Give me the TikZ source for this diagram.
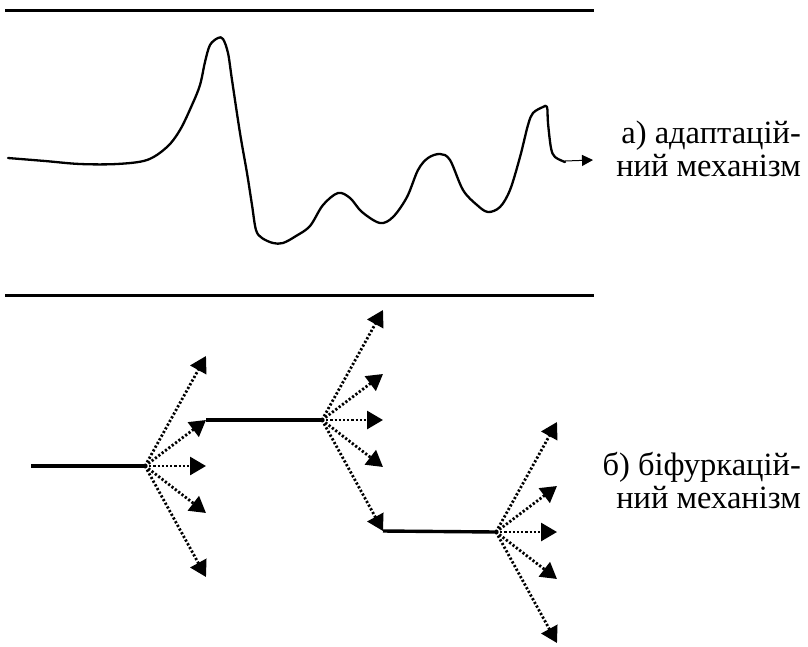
\documentclass[tikz,border=0pt]{standalone}
\usepackage{fontspec}
\setmainfont{Liberation Serif}
\usetikzlibrary{arrows.meta}
\begin{document}
\begin{tikzpicture}[x=1pt,y=-1pt,
  rule/.style={line width=3pt},
  wave/.style={line width=2.3pt,line join=round,line cap=round},
  trunk/.style={line width=3.4pt},
  branch/.style={line width=2.8pt,dash pattern=on 2.2pt off 2pt,-{Triangle[length=16pt,width=18pt]}},
  lbl/.style={align=right,anchor=east,inner sep=0pt,font=\fontsize{32.5}{33}\selectfont}]
\useasboundingbox (0,0) rectangle (808,646);
% frame lines
\coordinate (t1) at (5,10); \coordinate (t2) at (594,10);
\coordinate (b1) at (5,295); \coordinate (b2) at (594,295);
\draw[rule] (t1) -- (t2);
\draw[rule] (b1) -- (b2);
% adaptive curve
\draw[wave] plot[smooth,tension=0.55] coordinates {(8,158) (45,161) (80,164) (117,164) (147,160) (167,147) (180,130) (192,105) (200,85) (205,62) (210,45) (218,38) (223,39) (228,53) (232,80) (240,133) (247,173) (252,205) (256,230) (262,238) (273,243) (283,243) (296,236) (310,226) (323,205) (338,193) (350,198) (362,212) (380,223) (393,217) (407,197) (418,170) (428,158) (440,154) (450,160) (463,190) (477,205) (488,212) (500,207) (510,190) (520,157) (528,125) (533,113) (543,107) (547,107) (548,123) (551,148) (555,157) (565,162)};
\coordinate (ws) at (565,161); \coordinate (we) at (593,160);
\draw[line width=1pt,-{Triangle[length=11pt,width=11pt]}] (ws) -- (we);
\node[lbl] (la) at (801,149) {а) адаптацій-\\ний механізм};
% bifurcation
\coordinate (s0) at (31,466);
\foreach \n/\x/\y in {f1/145/466, f2/322/420, f3/496/532} {
  \coordinate (\n) at (\x,\y);
  \foreach \k/\dy in {1/-110,2/-46,3/0,4/47,5/111} {
    \coordinate (\n t\k) at (\x+61,\y+\dy);
    \draw[branch] (\n) -- (\n t\k);
  }
}
\draw[trunk] (s0) -- (f1);
\draw[trunk] (f1t2) -- (f2);
\draw[trunk] (f2t5) -- (f3);
\node[lbl] (lb) at (801,481) {б) біфуркацій-\\ний механізм};
\end{tikzpicture}
\end{document}
